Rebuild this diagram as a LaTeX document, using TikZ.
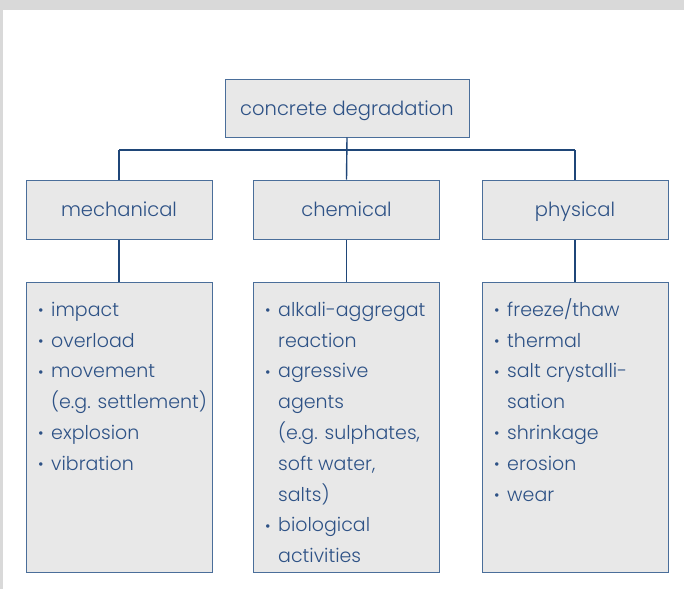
\documentclass[tikz,border=0pt]{standalone}
\usepackage{fontspec}
\setmainfont{Poppins}[UprightFont=* Light]
\definecolor{txt}{HTML}{2E5286}
\definecolor{edge}{HTML}{4A6E9A}
\definecolor{conn}{HTML}{1F4678}
\definecolor{boxfill}{HTML}{E8E8E8}
\definecolor{bg}{HTML}{D9D9D9}
\newcommand{\bul}{\makebox[13pt][l]{\raisebox{0.05ex}{\fontsize{15}{15}\selectfont\textbullet}}}
\newcommand{\ind}{\hspace*{13pt}}
\newcommand{\firstline}{\rule{0pt}{20pt}}
\begin{document}
\begin{tikzpicture}[x=1pt,y=-1pt,
  catbox/.style={draw=edge,line width=1pt,fill=boxfill,minimum width=186pt,minimum height=59pt,inner sep=0pt,text height=16pt,text depth=2pt,text=txt,font=\fontsize{19.5}{22}\selectfont},
  listbox/.style={draw=edge,line width=1pt,fill=boxfill,minimum width=186pt,minimum height=290pt,inner sep=0pt},
  listtext/.style={anchor=north west,inner sep=0pt,align=left,text=txt,font=\fontsize{19}{30.8}\selectfont},
  conline/.style={draw=conn,line width=1.4pt}]
\useasboundingbox (0,0) rectangle (684,589);
\fill[white] (0,0) rectangle (684,589);
\fill[bg] (0,0) rectangle (684,10);
\fill[bg] (0,0) rectangle (3,589);
\node[catbox,minimum width=244pt,minimum height=58pt] (top) at (347,108) {concrete degradation};
\node[catbox] (mech) at (119,209.5) {mechanical};
\node[catbox] (chem) at (346.5,209.5) {chemical};
\node[catbox] (phys) at (575,209.5) {physical};
\node[listbox] (mechbox) at (119,427) {};
\node[listbox] (chembox) at (346.5,427) {};
\node[listbox] (physbox) at (575,427) {};
\coordinate (jl) at (mech.north |- 0,150);
\coordinate (jr) at (phys.north |- 0,150);
\draw[conline] (top.south) -- (chem.north);
\draw[conline] (jl) -- (jr);
\draw[conline] (jl) -- (mech.north);
\draw[conline] (jr) -- (phys.north);
\draw[conline] (mech.south) -- (mechbox.north);
\draw[conline] (chem.south) -- (chembox.north);
\draw[conline] (phys.south) -- (physbox.north);
\node[listtext] (mechlist) at (38,296) {\firstline\bul impact\\\bul overload\\\bul movement\\\ind (e.g. settlement)\\\bul explosion\\\bul vibration};
\node[listtext] (chemlist) at (265,296) {\firstline\bul alkali-aggregat\\\ind reaction\\\bul agressive\\\ind agents\\\ind (e.g. sulphates,\\\ind soft water,\\\ind salts)\\\bul biological\\\ind activities};
\node[listtext] (physlist) at (494,296) {\firstline\bul freeze/thaw\\\bul thermal\\\bul salt crystalli-\\\ind sation\\\bul shrinkage\\\bul erosion\\\bul wear};
\end{tikzpicture}
\end{document}
